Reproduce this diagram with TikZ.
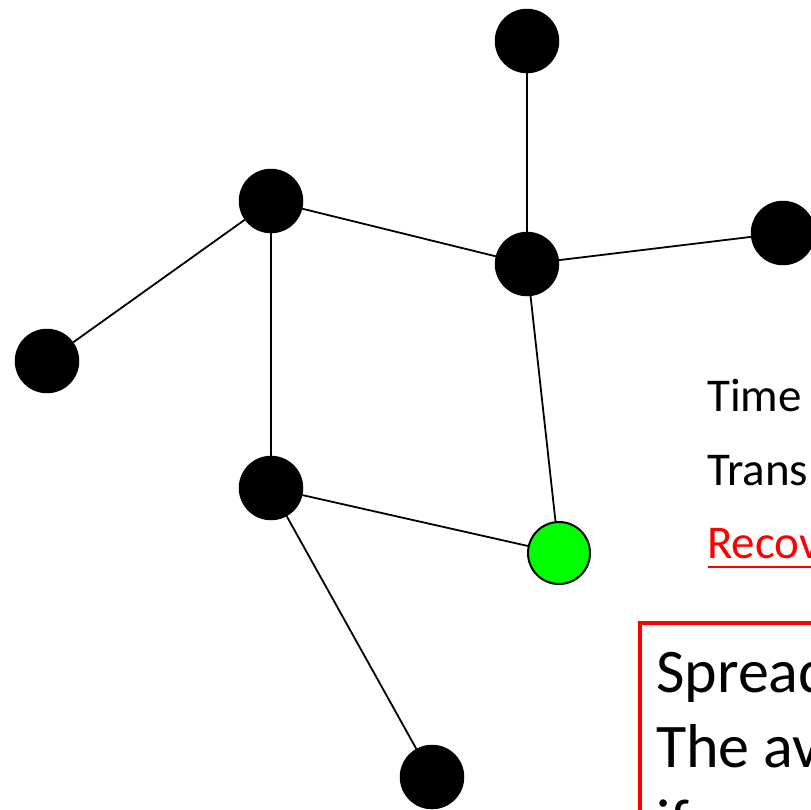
\documentclass[tikz,border=0pt]{standalone}
\usepackage{fontspec}
\setmainfont{Carlito}
\begin{document}
\begin{tikzpicture}[x=1pt,y=-1pt,
  vtx/.style={circle,fill=black,draw=black,line width=1.5pt,minimum size=63pt,inner sep=0pt},
  rec/.style={circle,fill={rgb,255:red,0;green,255;blue,0},draw=black,line width=2pt,minimum size=62pt,inner sep=0pt},
  edge/.style={line width=1.8pt,draw=black},
  lbl/.style={anchor=base west,inner sep=0pt,font=\fontsize{47}{56}\selectfont},
  big/.style={anchor=base west,inner sep=0pt,font=\fontsize{62}{75}\selectfont}]
\useasboundingbox (0,0) rectangle (811,809);
\clip (0,0) rectangle (811,809);
\fill[white] (0,0) rectangle (811,809);
\node[vtx] (top) at (527,41) {};
\node[vtx] (a) at (271,201) {};
\node[vtx] (b) at (527,264) {};
\node[vtx] (r) at (783,233) {};
\node[vtx] (l) at (47,361) {};
\node[vtx] (c) at (271,488) {};
\node[rec] (g) at (559,553) {};
\node[vtx] (bot) at (432,777) {};
\draw[edge] (top) -- (b);
\draw[edge] (a) -- (b);
\draw[edge] (b) -- (r);
\draw[edge] (a) -- (l);
\draw[edge] (a) -- (c);
\draw[edge] (b) -- (g);
\draw[edge] (c) -- (g);
\draw[edge] (c) -- (bot);
\node[lbl] (t1) at (707,411) {Time};
\node[lbl] (t2) at (707,485) {Transmission};
\node[lbl,text={rgb,255:red,255;green,0;blue,0}] (t3) at (707,558) {Recovery};
\draw[draw={rgb,255:red,255;green,0;blue,0},line width=2.5pt] (708,567) -- (811,567);
\draw[draw={rgb,255:red,255;green,0;blue,0},line width=4pt] (640,623) rectangle (950,950);
\node[big] (s1) at (656,692) {Spreading};
\node[big] (s2) at (656,767) {The average};
\node[big] (s3) at (656,842) {if};
\end{tikzpicture}
\end{document}
